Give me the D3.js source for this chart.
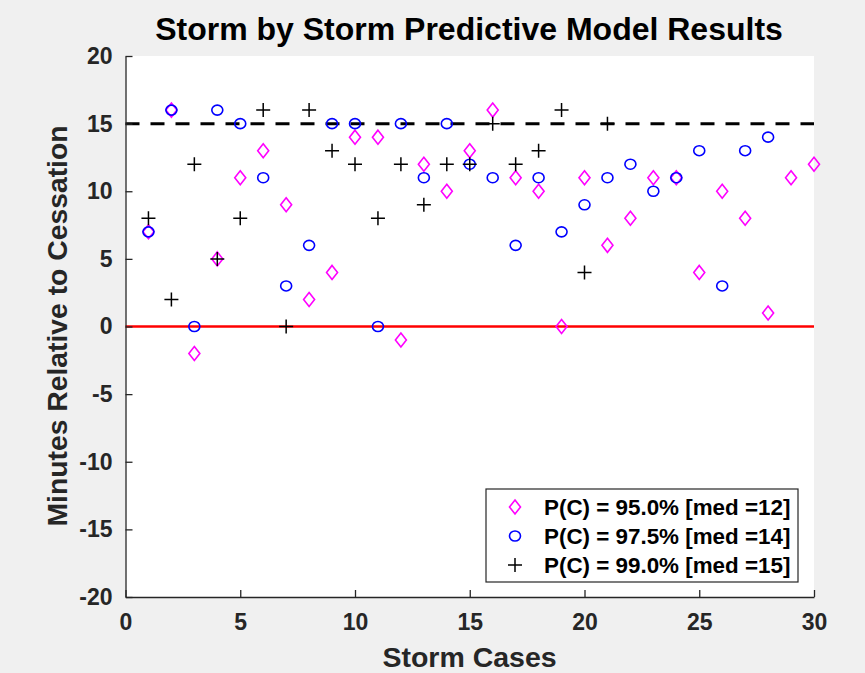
<!DOCTYPE html>
<html><head><meta charset="utf-8">
<script src="https://cdn.jsdelivr.net/npm/d3@7"></script>
<style>
html,body{margin:0;padding:0;background:#f0f0f0;}
text{font-family:"Liberation Sans",Arial,Helvetica,sans-serif;font-weight:bold;}
</style></head>
<body>
<svg id="chart" width="865" height="673"></svg>
<script>
// ---- data ----
const cases95 = d3.range(1, 31);
const p95 = [7,16,-2,5,11,13,9,2,4,14,14,-1,12,10,13,16,11,10,0,11,6,8,11,11,4,10,8,1,11,12];
const cases975 = d3.range(1, 29);
const p975 = [7,16,0,16,15,11,3,6,15,15,0,15,11,15,12,11,6,11,7,9,11,12,10,11,13,3,13,14];
const cases99 = d3.range(1, 22);
const p99 = [8,2,12,5,8,16,0,16,13,12,8,12,9,12,12,15,12,13,16,4,15];
const xTicks = [0,5,10,15,20,25,30];
const yTicks = [-20,-15,-10,-5,0,5,10,15,20];
const refLine = 15;
const zeroLine = 0;
const legendLabels = ["P(C) = 95.0% [med =12]", "P(C) = 97.5% [med =14]", "P(C) = 99.0% [med =15]"];
const titleText = "Storm by Storm Predictive Model Results";
const xLabel = "Storm Cases";
const yLabel = "Minutes Relative to Cessation";

const svg = d3.select("#chart");
const L = 125.5, R = 814, T = 56, B = 597;
const x = d3.scaleLinear().domain([0, 30]).range([L, R]);
const y = d3.scaleLinear().domain([-20, 20]).range([B, T]);
const axisColor = "#262626";

svg.append("rect").attr("x", L).attr("y", T).attr("width", R - L).attr("height", B - T).attr("fill", "#fff");

// reference lines
svg.append("line").attr("x1", x(0)).attr("x2", x(30)).attr("y1", y(zeroLine)).attr("y2", y(zeroLine))
  .attr("stroke", "#ff0000").attr("stroke-width", 2.5);
svg.append("line").attr("x1", x(0)).attr("x2", x(30)).attr("y1", y(refLine)).attr("y2", y(refLine))
  .attr("stroke", "#000").attr("stroke-width", 3).attr("stroke-dasharray", "14,11");

// axes
const fmt = d => String(d);
const xAxis = d3.axisBottom(x).tickValues(xTicks).tickFormat(fmt).tickSize(-7).tickPadding(17).tickSizeOuter(0);
const yAxis = d3.axisLeft(y).tickValues(yTicks).tickFormat(fmt).tickSize(-7).tickPadding(13).tickSizeOuter(0);
const gx = svg.append("g").attr("transform", `translate(0,${B})`).call(xAxis);
const gy = svg.append("g").attr("transform", `translate(${L},0)`).call(yAxis);
[gx, gy].forEach(g => {
  g.select(".domain").attr("stroke", axisColor).attr("stroke-width", 1.3);
  g.selectAll(".tick line").attr("stroke", axisColor).attr("stroke-width", 1.3);
  g.selectAll(".tick text").attr("fill", axisColor).style("font-size", "23px").style("font-family", '"Liberation Sans",Arial,sans-serif').style("font-weight", "bold");
});
gx.selectAll(".tick text").attr("dy", "0.71em");

// markers
const diamond = (cx, cy) => `M${cx},${cy-7}L${cx+5.5},${cy}L${cx},${cy+7}L${cx-5.5},${cy}Z`;
const plus = (cx, cy) => `M${cx-7},${cy}H${cx+7}M${cx},${cy-7}V${cy+7}`;

svg.append("g").selectAll("path").data(p95).join("path")
  .attr("d", (d, i) => diamond(x(cases95[i]), y(d)))
  .attr("fill", "none").attr("stroke", "#ff00ff").attr("stroke-width", 1.6);
svg.append("g").selectAll("ellipse").data(p975).join("ellipse")
  .attr("cx", (d, i) => x(cases975[i])).attr("cy", d => y(d)).attr("rx", 5.5).attr("ry", 5)
  .attr("fill", "none").attr("stroke", "#0000ff").attr("stroke-width", 1.6);
svg.append("g").selectAll("path").data(p99).join("path")
  .attr("d", (d, i) => plus(x(cases99[i]), y(d)))
  .attr("fill", "none").attr("stroke", "#000").attr("stroke-width", 1.5);

// legend
const lg = svg.append("g");
lg.append("rect").attr("x", 486).attr("y", 489).attr("width", 312).attr("height", 93)
  .attr("fill", "#fff").attr("stroke", axisColor).attr("stroke-width", 1.2);
const rowY = [507, 536, 565];
lg.append("path").attr("d", diamond(515, rowY[0])).attr("fill", "none").attr("stroke", "#ff00ff").attr("stroke-width", 1.6);
lg.append("ellipse").attr("cx", 515).attr("cy", rowY[1]).attr("rx", 5.5).attr("ry", 5).attr("fill", "none").attr("stroke", "#0000ff").attr("stroke-width", 1.6);
lg.append("path").attr("d", plus(515, rowY[2])).attr("fill", "none").attr("stroke", "#000").attr("stroke-width", 1.5);
lg.selectAll("text.lbl").data(legendLabels).join("text").attr("class", "lbl")
  .attr("x", 544).attr("y", (d, i) => rowY[i]).attr("dy", "0.36em")
  .attr("fill", "#000").style("font-size", "22.4px").text(d => d);

// titles
svg.append("text").attr("x", 469).attr("y", 40).attr("text-anchor", "middle")
  .attr("fill", "#000").style("font-size", "32px").text(titleText);
svg.append("text").attr("x", 469.5).attr("y", 667).attr("text-anchor", "middle")
  .attr("fill", axisColor).style("font-size", "28.5px").text(xLabel);
svg.append("text").attr("transform", `translate(67,326) rotate(-90)`).attr("text-anchor", "middle")
  .attr("fill", axisColor).style("font-size", "28.3px").text(yLabel);
</script>
</body></html>
